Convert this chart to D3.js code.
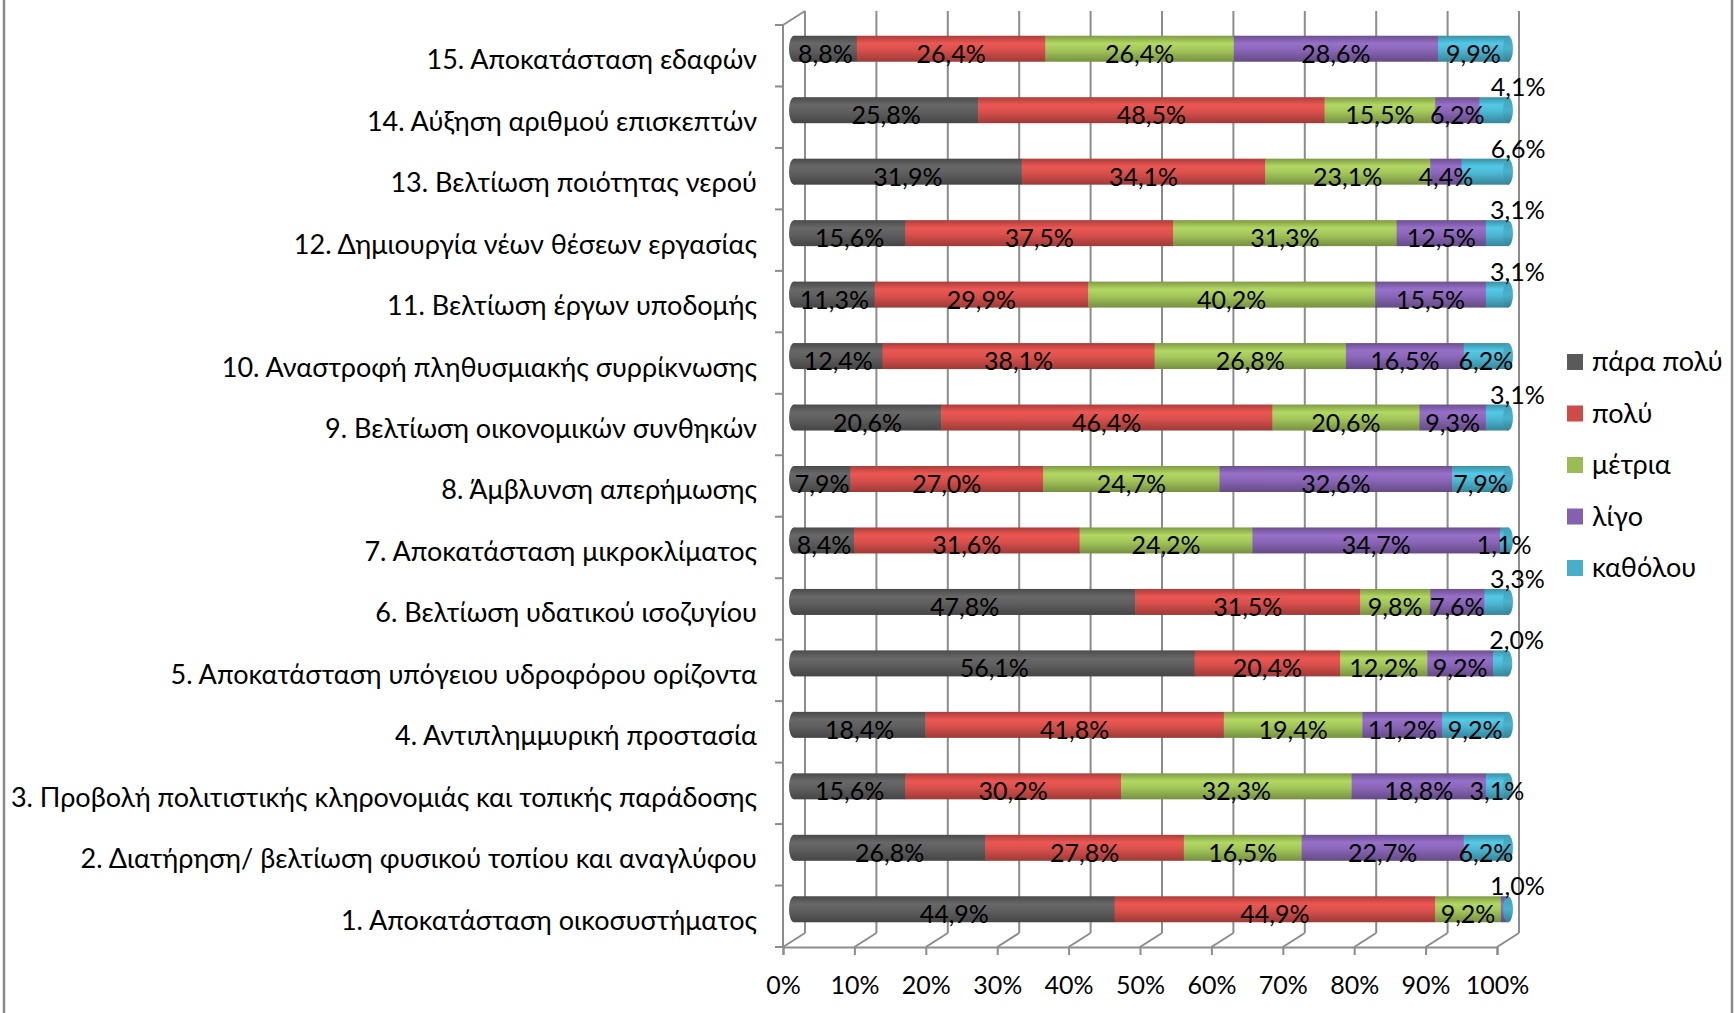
<!DOCTYPE html>
<html><head><meta charset="utf-8">
<script src="https://cdn.jsdelivr.net/npm/d3@7"></script>
<style>
html,body{margin:0;padding:0;background:#fff;}
text{font-family:Lato,"Noto Sans",sans-serif;fill:#000;}
</style></head>
<body><svg id="c" width="1736" height="1013"></svg>
<script>
const categories = [
 "1. Αποκατάσταση οικοσυστήματος",
 "2. Διατήρηση/ βελτίωση φυσικού τοπίου και αναγλύφου",
 "3. Προβολή πολιτιστικής κληρονομιάς και τοπικής παράδοσης",
 "4. Αντιπλημμυρική προστασία",
 "5. Αποκατάσταση υπόγειου υδροφόρου ορίζοντα",
 "6. Βελτίωση υδατικού ισοζυγίου",
 "7. Αποκατάσταση μικροκλίματος",
 "8. Άμβλυνση απερήμωσης",
 "9. Βελτίωση οικονομικών συνθηκών",
 "10. Αναστροφή πληθυσμιακής συρρίκνωσης",
 "11. Βελτίωση έργων υποδομής",
 "12. Δημιουργία νέων θέσεων εργασίας",
 "13. Βελτίωση ποιότητας νερού",
 "14. Αύξηση αριθμού επισκεπτών",
 "15. Αποκατάσταση εδαφών"
];
const seriesNames = ["πάρα πολύ","πολύ","μέτρια","λίγο","καθόλου"];
const seriesColors = ["#5f5f5f","#d9504c","#a3c65a","#8a66b8","#4cb8d4"];
const paraPoly = [44.9,26.8,15.6,18.4,56.1,47.8,8.4,7.9,20.6,12.4,11.3,15.6,31.9,25.8,8.8];
const poly     = [44.9,27.8,30.2,41.8,20.4,31.5,31.6,27.0,46.4,38.1,29.9,37.5,34.1,48.5,26.4];
const metria   = [9.2,16.5,32.3,19.4,12.2,9.8,24.2,24.7,20.6,26.8,40.2,31.3,23.1,15.5,26.4];
const ligo     = [1.0,22.7,18.8,11.2,9.2,7.6,34.7,32.6,9.3,16.5,15.5,12.5,4.4,6.2,28.6];
const katholou = [0,6.2,3.1,9.2,2.0,3.3,1.1,7.9,3.1,6.2,3.1,3.1,6.6,4.1,9.9];
// bars whose last label sits above the end of the bar
const raisedLast = [true,false,false,false,true,true,false,false,true,false,true,true,true,true,false];
const xTicks = [0,10,20,30,40,50,60,70,80,90,100];

const svg = d3.select("#c");
const fmt = v => v.toFixed(1).replace(".", ",") + "%";

// geometry
const frontL = 783, frontR = 1497, frontTop = 25, frontBot = 947;
const depthX = 22, depthY = -14;
const xFront = d3.scaleLinear().domain([0,100]).range([frontL, frontR]);
const xBar = d3.scaleLinear().domain([0,100]).range([frontL + depthX/2, frontR + depthX/2]);
const y = d3.scaleBand().domain(categories.slice().reverse()).range([frontTop, frontBot]).padding(0);
const barH = 26;

// outer frame
svg.append("line").attr("x1",4).attr("x2",4).attr("y1",0).attr("y2",1013).attr("stroke","#8a8a8a").attr("stroke-width",2.5);
svg.append("line").attr("x1",1732).attr("x2",1732).attr("y1",0).attr("y2",1013).attr("stroke","#8a8a8a").attr("stroke-width",2.5);

const grid = svg.append("g").attr("stroke","#8c8c8c").attr("stroke-width",2).attr("fill","none");
xTicks.forEach(t => {
  const xb = xFront(t) + depthX;
  grid.append("line").attr("x1",xb).attr("x2",xb).attr("y1",frontTop+depthY).attr("y2",frontBot+depthY);
  grid.append("line").attr("x1",xFront(t)).attr("y1",frontBot).attr("x2",xb).attr("y2",frontBot+depthY);
});
grid.append("line").attr("x1",frontL).attr("x2",frontL+depthX).attr("y1",frontTop).attr("y2",frontTop+depthY);
grid.append("line").attr("x1",frontL).attr("x2",frontL).attr("y1",frontTop).attr("y2",frontBot);
const bounds = y.domain().map(c => y(c)).concat([frontBot]);
bounds.forEach(b => grid.append("line").attr("x1",frontL-8).attr("x2",frontL).attr("y1",b).attr("y2",b));

const ax = svg.append("g").attr("transform",`translate(0,${frontBot})`)
  .call(d3.axisBottom(xFront).tickValues(xTicks).tickFormat(d => d + "%").tickSize(8).tickPadding(21));
ax.select(".domain").attr("stroke","#8c8c8c").attr("stroke-width",2);
ax.selectAll(".tick line").attr("stroke","#8c8c8c").attr("stroke-width",2);
ax.selectAll(".tick text").attr("font-size",25).attr("font-family","Lato").attr("fill","#000");

const defs = svg.append("defs");
seriesColors.forEach((c,i) => {
  const g = defs.append("linearGradient").attr("id","g"+i).attr("x1",0).attr("x2",0).attr("y1",0).attr("y2",1);
  const base = d3.color(c);
  g.append("stop").attr("offset","0%").attr("stop-color", base.darker(0.7));
  g.append("stop").attr("offset","30%").attr("stop-color", base.brighter(0.25));
  g.append("stop").attr("offset","55%").attr("stop-color", base);
  g.append("stop").attr("offset","100%").attr("stop-color", base.darker(0.9));
  const ge = defs.append("linearGradient").attr("id","e"+i).attr("x1",0).attr("x2",0).attr("y1",0).attr("y2",1);
  ge.append("stop").attr("offset","0%").attr("stop-color", base.darker(0.4));
  ge.append("stop").attr("offset","50%").attr("stop-color", base.darker(0.1));
  ge.append("stop").attr("offset","100%").attr("stop-color", base.darker(1.0));
});

const series = [paraPoly, poly, metria, ligo, katholou];
const bars = svg.append("g");
const labels = svg.append("g");
categories.forEach((cat, ci) => {
  const cy = y(cat) + y.bandwidth()/2 + depthY/2;
  let acc = 0;
  const segs = series.map((s, si) => { const s0 = acc; acc += s[ci]; return {si, v: s[ci], x0: s0, x1: acc}; });
  const total = acc;
  bars.append("ellipse").attr("cx", xBar(0)).attr("cy", cy).attr("rx", 5).attr("ry", barH/2)
    .attr("fill", "url(#g0)");
  segs.forEach(sg => {
    if (sg.v <= 0) return;
    bars.append("rect").attr("x", xBar(sg.x0)).attr("y", cy - barH/2)
      .attr("width", xBar(sg.x1) - xBar(sg.x0) + 0.5).attr("height", barH)
      .attr("fill", `url(#g${sg.si})`);
  });
  bars.append("ellipse").attr("cx", xBar(Math.min(total,100))).attr("cy", cy).attr("rx", 5).attr("ry", barH/2)
    .attr("fill", `url(#e4)`);
  const nonzero = segs.filter(s => s.v > 0);
  nonzero.forEach((sg, k) => {
    const isLast = k === nonzero.length - 1;
    if (isLast && raisedLast[ci]) {
      labels.append("text").attr("x", xBar(total) - 18).attr("y", cy - 14)
        .attr("font-size", 25).text(fmt(sg.v));
    } else {
      labels.append("text").attr("x", (xBar(sg.x0) + xBar(sg.x1))/2).attr("y", cy + 14)
        .attr("text-anchor","middle").attr("font-size", 25).text(fmt(sg.v));
    }
  });
  svg.append("text").attr("x", 757).attr("y", y(cat) + y.bandwidth()/2 + 4).attr("dy","0.35em")
    .attr("text-anchor","end").attr("font-size", 27).text(cat);
});

const lg = svg.append("g");
seriesNames.forEach((n, i) => {
  const ly = 362 + i * 51.5;
  lg.append("rect").attr("x", 1567).attr("y", ly - 8).attr("width", 16).attr("height", 16).attr("fill", d3.color(seriesColors[i]).darker(0.15));
  lg.append("text").attr("x", 1592).attr("y", ly).attr("dy", "0.35em").attr("font-size", 27).text(n);
});
</script></body></html>
